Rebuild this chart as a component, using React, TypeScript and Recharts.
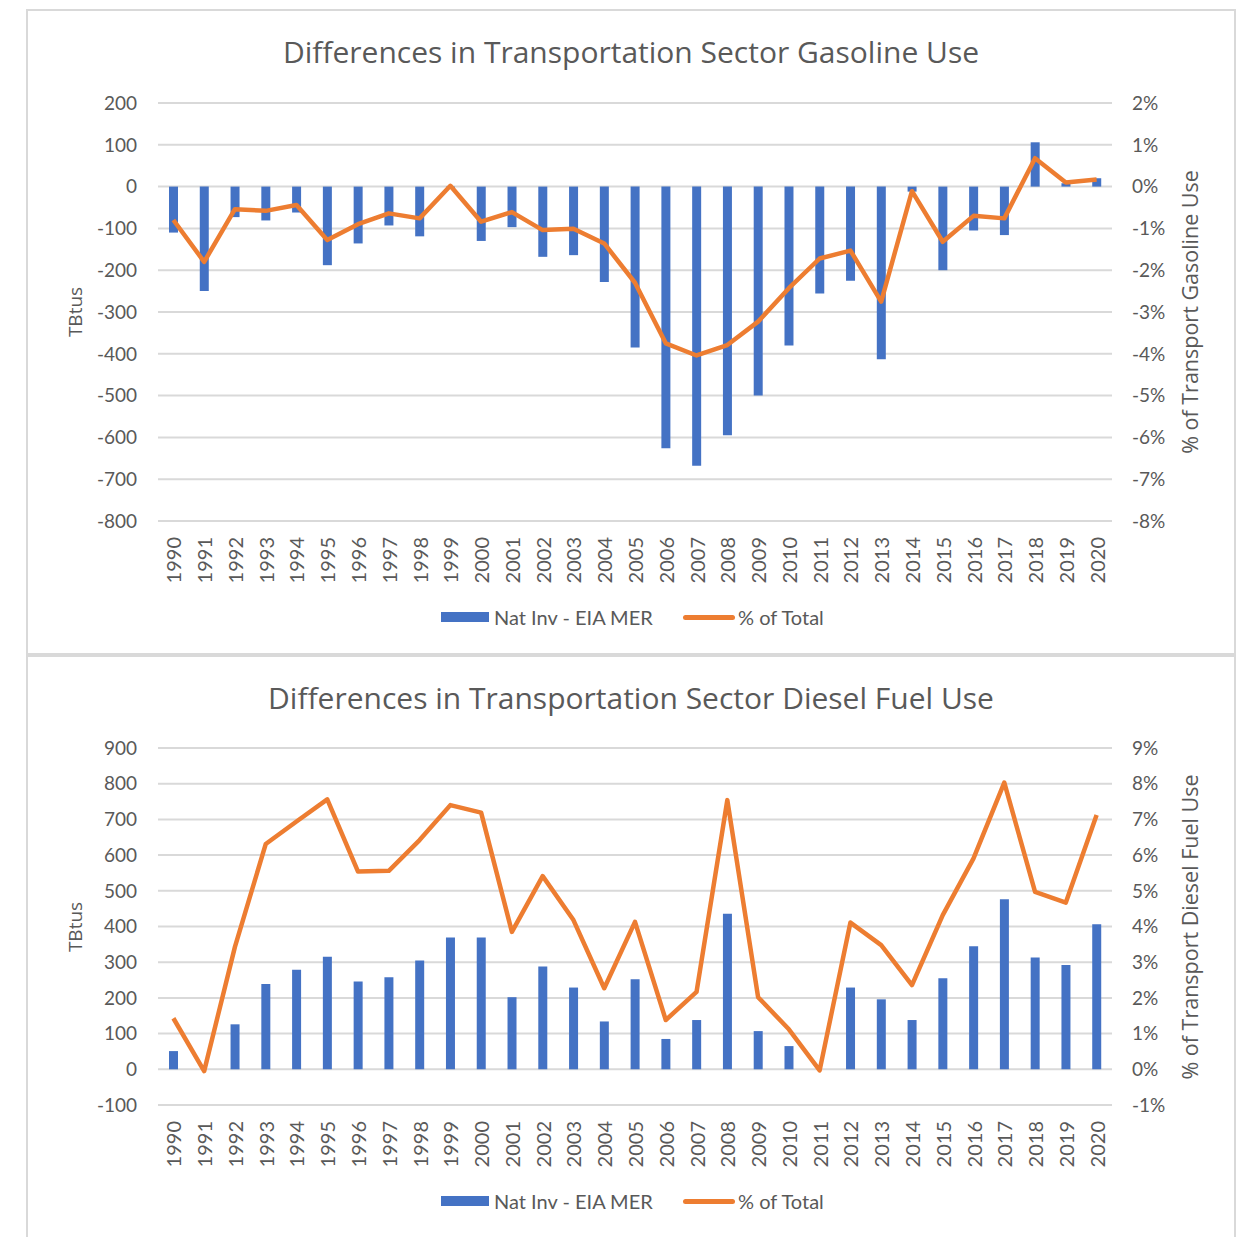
import { ComposedChart, Bar, Line, XAxis, YAxis, CartesianGrid } from 'recharts';

const years = [
  '1990', '1991', '1992', '1993', '1994', '1995', '1996', '1997', '1998', '1999', '2000',
  '2001', '2002', '2003', '2004', '2005', '2006', '2007', '2008', '2009', '2010',
  '2011', '2012', '2013', '2014', '2015', '2016', '2017', '2018', '2019', '2020',
];

// gasoline: TBtu difference and % of transport gasoline use
const gasDiff = [
  -110, -250, -73, -81, -62, -188, -136, -93, -119, -3, -130,
  -97, -168, -164, -228, -385, -626, -668, -595, -500, -380,
  -256, -225, -413, -12, -200, -105, -116, 106, 8, 20,
];
const gasPct = [
  -0.8, -1.8, -0.54, -0.58, -0.44, -1.28, -0.9, -0.64, -0.76, 0.02, -0.84,
  -0.61, -1.04, -1.01, -1.36, -2.3, -3.75, -4.04, -3.79, -3.23, -2.43,
  -1.72, -1.53, -2.75, -0.11, -1.32, -0.7, -0.76, 0.68, 0.1, 0.17,
];

// diesel
const dieselDiff = [
  51, 0, 126, 239, 279, 315, 246, 258, 305, 369, 369,
  202, 288, 229, 134, 252, 85, 138, 436, 107, 65,
  0, 229, 196, 138, 255, 345, 476, 313, 292, 406,
];
const dieselPct = [
  1.43, -0.05, 3.43, 6.31, 6.94, 7.56, 5.54, 5.56, 6.42, 7.4, 7.19,
  3.85, 5.41, 4.18, 2.27, 4.13, 1.38, 2.17, 7.54, 2.02, 1.12,
  -0.03, 4.11, 3.48, 2.36, 4.32, 5.91, 8.03, 4.97, 4.67, 7.12,
];

const gasLeftTicks = [-800, -700, -600, -500, -400, -300, -200, -100, 0, 100, 200];
const gasRightTicks = [-8, -7, -6, -5, -4, -3, -2, -1, 0, 1, 2];
const dieselLeftTicks = [-100, 0, 100, 200, 300, 400, 500, 600, 700, 800, 900];
const dieselRightTicks = [-1, 0, 1, 2, 3, 4, 5, 6, 7, 8, 9];

const FONT = 'Lato, "Open Sans", sans-serif';
const TITLE_FONT = '"Open Sans", Lato, sans-serif';
const GREY = '#595959';
const BLUE = '#4472C4';
const ORANGE = '#ED7D31';

const YearTick = (props: any) => {
  const { x, y, payload } = props;
  const ty = y + 14;
  return (
    <text
      x={x}
      y={ty}
      transform={`rotate(-90 ${x} ${ty})`}
      textAnchor="end"
      dominantBaseline="central"
      fill={GREY}
      fontSize={20}
      fontFamily={FONT}
    >
      {payload.value}
    </text>
  );
};

interface PanelProps {
  top: number;
  height: number;
  plotTop: number;
  plotBottom: number;
  title: string;
  rightLabel: string;
  diff: number[];
  pct: number[];
  leftTicks: number[];
  rightTicks: number[];
}

function Panel(p: PanelProps) {
  const data = years.map((year, i) => ({ year, diff: p.diff[i], pct: p.pct[i] }));
  const mTop = p.plotTop - p.top;
  const mBottom = p.height - (p.plotBottom - p.top) - 60;
  const midY = (p.plotTop + p.plotBottom) / 2;
  const legendY = p.plotBottom + 96;

  return (
    <>
      <div
        style={{
          position: 'absolute',
          left: 26,
          top: p.top,
          width: 1206,
          height: p.height - 4,
          border: '2px solid #D9D9D9',
          background: '#fff',
        }}
      />
      <div
        style={{
          position: 'absolute',
          left: 0,
          top: p.top,
          width: 1250,
          height: p.height,
        }}
      >
        <ComposedChart
          width={1250}
          height={p.height}
          data={data}
          margin={{ top: mTop, right: 0, left: 0, bottom: mBottom }}
        >
          <CartesianGrid vertical={false} stroke="#D9D9D9" strokeWidth={2} yAxisId="left" />
          <XAxis
            dataKey="year"
            axisLine={false}
            tickLine={false}
            tickSize={0}
            interval={0}
            height={60}
            tick={<YearTick />}
          />
          <YAxis
            yAxisId="left"
            width={158}
            domain={[p.leftTicks[0], p.leftTicks[p.leftTicks.length - 1]]}
            ticks={p.leftTicks}
            axisLine={false}
            tickLine={false}
            tickSize={0}
            tickMargin={21}
            tick={{ fill: GREY, fontSize: 19, fontFamily: FONT }}
          />
          <YAxis
            yAxisId="right"
            orientation="right"
            width={138}
            domain={[p.rightTicks[0], p.rightTicks[p.rightTicks.length - 1]]}
            ticks={p.rightTicks}
            tickFormatter={(v: number) => `${v}%`}
            axisLine={false}
            tickLine={false}
            tickSize={0}
            tickMargin={20}
            tick={{ fill: GREY, fontSize: 19, fontFamily: FONT }}
          />
          <Bar yAxisId="left" dataKey="diff" fill={BLUE} barSize={9} isAnimationActive={false} />
          <Line
            yAxisId="right"
            dataKey="pct"
            type="linear"
            stroke={ORANGE}
            strokeWidth={4.5}
            dot={false}
            strokeLinejoin="round"
            isAnimationActive={false}
          />
        </ComposedChart>
      </div>

      <div
        style={{
          position: 'absolute',
          left: 0,
          width: 1262,
          top: p.top + 43 - 20,
          height: 40,
          lineHeight: '40px',
          textAlign: 'center',
          fontFamily: TITLE_FONT,
          fontSize: 30,
          color: GREY,
          whiteSpace: 'nowrap',
        }}
      >
        {p.title}
      </div>

      <div
        style={{
          position: 'absolute',
          left: 75 - 100,
          top: midY - 15,
          width: 200,
          height: 30,
          lineHeight: '30px',
          textAlign: 'center',
          transform: 'rotate(-90deg)',
          fontFamily: TITLE_FONT,
          fontSize: 19,
          color: GREY,
        }}
      >
        TBtus
      </div>
      <div
        style={{
          position: 'absolute',
          left: 1190 - 200,
          top: midY - 15,
          width: 400,
          height: 30,
          lineHeight: '30px',
          textAlign: 'center',
          transform: 'rotate(-90deg)',
          fontFamily: TITLE_FONT,
          fontSize: 21.5,
          color: GREY,
          whiteSpace: 'nowrap',
        }}
      >
        {p.rightLabel}
      </div>

      <div style={{ position: 'absolute', left: 441, top: legendY - 5, width: 48, height: 10, background: BLUE }} />
      <div
        style={{
          position: 'absolute',
          left: 494,
          top: legendY - 13,
          height: 26,
          lineHeight: '26px',
          fontFamily: FONT,
          fontSize: 20,
          color: GREY,
          whiteSpace: 'nowrap',
        }}
      >
        Nat Inv - EIA MER
      </div>
      <div
        style={{
          position: 'absolute',
          left: 683,
          top: legendY - 2,
          width: 52,
          height: 5,
          borderRadius: 3,
          background: ORANGE,
        }}
      />
      <div
        style={{
          position: 'absolute',
          left: 738,
          top: legendY - 13,
          height: 26,
          lineHeight: '26px',
          fontFamily: FONT,
          fontSize: 20,
          color: GREY,
          whiteSpace: 'nowrap',
        }}
      >
        % of Total
      </div>
    </>
  );
}

export default function App() {
  return (
    <div style={{ position: 'relative', width: 1250, height: 1245, margin: -8, background: '#fff', overflow: 'hidden' }}>
      <div style={{ position: 'absolute', left: 0, top: 0, width: 1250, height: 3, background: '#2F6396' }} />
      <div style={{ position: 'absolute', left: 5, top: 0, width: 3, height: 1245, background: '#2F6396' }} />
      <Panel
        top={9}
        height={646}
        plotTop={103}
        plotBottom={521}
        title="Differences in Transportation Sector Gasoline Use"
        rightLabel="% of Transport Gasoline Use"
        diff={gasDiff}
        pct={gasPct}
        leftTicks={gasLeftTicks}
        rightTicks={gasRightTicks}
      />
      <Panel
        top={655}
        height={585}
        plotTop={748}
        plotBottom={1105}
        title="Differences in Transportation Sector Diesel Fuel Use"
        rightLabel="% of Transport Diesel Fuel Use"
        diff={dieselDiff}
        pct={dieselPct}
        leftTicks={dieselLeftTicks}
        rightTicks={dieselRightTicks}
      />
    </div>
  );
}
